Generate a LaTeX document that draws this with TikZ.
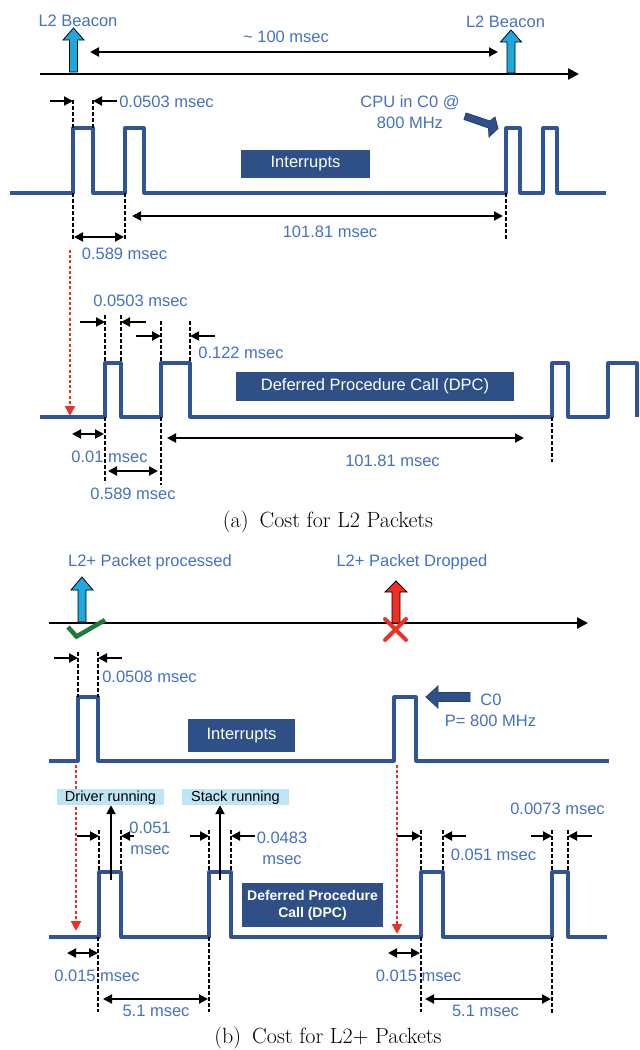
\documentclass[tikz,border=0pt]{standalone}
\usepackage{fontspec}
\newfontfamily\arial{Liberation Sans}
\usetikzlibrary{arrows.meta}
\definecolor{wave}{HTML}{2F5597}
\definecolor{txtblue}{HTML}{4472C4}
\definecolor{boxblue}{HTML}{2E5086}
\definecolor{beacon}{HTML}{1FA8E0}
\definecolor{redx}{HTML}{EE3124}
\definecolor{chk}{HTML}{1E7B35}
\definecolor{lblbg}{HTML}{BDE5F5}
\tikzset{
  wavel/.style={draw=wave, line width=3.2pt, line join=round},
  dotl/.style={draw=black, line width=1.8pt, dash pattern=on 3.5pt off 2.5pt},
  dimr/.style={draw=black, line width=2pt, -{Triangle[length=9pt,width=9pt]}},
  dimb/.style={draw=black, line width=2pt, {Triangle[length=9pt,width=9pt]}-{Triangle[length=9pt,width=9pt]}},
  axisl/.style={draw=black, line width=2.2pt, -{Triangle[length=11pt,width=11pt]}},
  reddot/.style={draw=redx, line width=2.2pt, dash pattern=on 3pt off 2.2pt, -{Triangle[length=10pt,width=10pt]}},
  lab/.style={text=txtblue, font=\arial\fontsize{16.5}{21}\selectfont, inner sep=0pt, align=center},
  onel/.style={lab, text height=12pt, text depth=0pt},
  darkbox/.style={fill=boxblue, text=white, font=\arial\fontsize{16.5}{19}\selectfont, inner sep=0pt, align=center},
  lightbox/.style={fill=lblbg, text=black, font=\arial\fontsize{14.5}{16}\selectfont, inner sep=0pt, text height=10.5pt, text depth=2pt},
  upblue/.style={draw=black, line width=0.8pt, fill=beacon, line join=miter},
  upred/.style={draw=black, line width=0.8pt, fill=redx, line join=miter},
  darkarrow/.style={draw=boxblue!80!black, line width=0.8pt, fill=boxblue},
  capt/.style={font=\fontsize{22}{26}\selectfont, inner sep=0pt}
}
\begin{document}
\begin{tikzpicture}[x=1pt,y=-1pt]
\useasboundingbox[fill=white] (0,0) rectangle (640,1050);

% ================= (a) =================
\coordinate (ta0) at (40,74);
\coordinate (ta1) at (579,74);
\draw[axisl] (ta0) -- (ta1);
\draw[upblue] (69.5,72) -- (69.5,40) -- (63,40) -- (73.5,28) -- (84,40) -- (77.5,40) -- (77.5,72) -- cycle;
\draw[upblue] (507,73) -- (507,42) -- (500.5,42) -- (511,30) -- (521.5,42) -- (515,42) -- (515,73) -- cycle;
\node[onel] (lb1) at (78,20.5) {L2 Beacon};
\node[onel] (lb2) at (505.5,21) {L2 Beacon};
\coordinate (h0) at (90,52);
\coordinate (h1) at (498,52);
\draw[dimb] (h0) -- (h1);
\node[onel] (hund) at (286,36) {\char`~\ 100 msec};

% interrupts waveform (a)
\draw[wavel] (10,193) -| (73,128) -| (93,193) -| (125,128) -| (144,193) -| (506,128) -| (520,193) -| (543,128) -| (557,193) -- (606,193);
\node[darkbox, minimum width=129pt, minimum height=28pt] (intA) at (305.5,164) {Interrupts};
\draw[dotl] (73,100) -- (73,128);
\draw[dotl] (93,100) -- (93,128);
\draw[dimr] (50,101) -- (73,101);
\draw[dimr] (117,101) -- (93,101);
\node[onel] (a1) at (166.5,101) {0.0503 msec};
\node[lab] (cpu) at (410,112.5) {CPU in C0 @\\800 MHz};
\draw[darkarrow] (466,113) -- (490,121) -- (495,117) -- (498,128.5) -- (489,137) -- (488.5,128) -- (464,119.5) -- cycle;
\draw[dotl] (73,193) -- (73,240);
\draw[dotl] (125,193) -- (125,240);
\draw[dotl] (506,193) -- (506,239);
\draw[dimb] (74,237) -- (124,237);
\node[onel] (a2) at (124.5,253.5) {0.589 msec};
\draw[dimb] (132,216) -- (503,216);
\node[onel] (a3) at (330,231.5) {101.81 msec};

\coordinate (ra0) at (70,250);
\coordinate (ra1) at (70,416);
\draw[reddot] (ra0) -- (ra1);

% DPC waveform (a)
\draw[wavel] (40,417) -| (105,363) -| (121,417) -| (161,363) -| (190,417) -| (552,363) -| (568,417) -| (608,363) -| (637,417);
\node[darkbox, minimum width=278pt, minimum height=29pt] (dpcA) at (375,386.5) {Deferred Procedure Call (DPC)};
\draw[dotl] (105,315) -- (105,363);
\draw[dotl] (121,315) -- (121,363);
\draw[dotl] (161,321) -- (161,363);
\draw[dotl] (190,321) -- (190,363);
\draw[dimr] (80,322) -- (105,322);
\draw[dimr] (146,322) -- (121,322);
\draw[dimr] (136,336) -- (161,336);
\draw[dimr] (215,336) -- (190,336);
\node[onel] (a4) at (140.5,300) {0.0503 msec};
\node[onel] (a5) at (241,352) {0.122 msec};
\draw[dotl] (105,417) -- (105,483);
\draw[dotl] (161,417) -- (161,485);
\draw[dotl] (552,417) -- (552,462);
\draw[dimb] (72,434) -- (104,434);
\node[onel] (a6) at (109.5,456) {0.01 msec};
\draw[dimb] (108,471) -- (158,471);
\node[onel] (a7) at (133,493) {0.589 msec};
\draw[dimb] (167,438) -- (524,438);
\node[onel] (a8) at (392.5,460) {101.81 msec};

\node[capt] (capA) at (328,522) {(a)\enspace Cost for L2 Packets};

% ================= (b) =================
\node[onel] (pp) at (150,560) {L2+ Packet processed};
\node[onel] (pd) at (412,560) {L2+ Packet Dropped};
\coordinate (tb0) at (49,623);
\coordinate (tb1) at (588,623);
\draw[axisl] (tb0) -- (tb1);
\draw[upblue] (78,622) -- (78,590) -- (71,590) -- (82,577) -- (93,590) -- (86,590) -- (86,622) -- cycle;
\draw[upred] (392,623) -- (392,592) -- (385,592) -- (396,581) -- (407,592) -- (400,592) -- (400,623) -- cycle;
\draw[chk, line width=4.5pt] (68,627) -- (76.5,636.5) -- (105,620);
\draw[redx, line width=4pt, line cap=round] (385,619) -- (406,640);
\draw[redx, line width=4pt, line cap=round] (385,640) -- (406,619);

% interrupts waveform (b)
\draw[wavel] (49,761) -| (78,697) -| (98,761) -| (394,697) -| (416,761) -- (609,761);
\node[darkbox, minimum width=107pt, minimum height=33pt] (intB) at (241.5,735.5) {Interrupts};
\draw[dotl] (78,652) -- (78,697);
\draw[dotl] (98,652) -- (98,697);
\draw[dimr] (54,658) -- (78,658);
\draw[dimr] (122,658) -- (98,658);
\node[onel] (b1) at (149.5,676.5) {0.0508 msec};
\draw[darkarrow] (470,692.5) -- (438,692.5) -- (438,686) -- (426,697) -- (438,708) -- (438,701.5) -- (470,701.5) -- cycle;
\node[onel] (c0) at (491,699.5) {C0};
\node[onel] (pmhz) at (490.5,720) {P= 800 MHz};

\coordinate (rb0) at (76,765);
\coordinate (rb1) at (76,931);
\draw[reddot] (rb0) -- (rb1);
\coordinate (rc0) at (397,765);
\coordinate (rc1) at (397,934);
\draw[reddot] (rc0) -- (rc1);

% DPC waveform (b)
\draw[wavel] (49,937) -| (99,872) -| (121,937) -| (209,872) -| (231,937) -| (421,872) -| (443,937) -| (552,872) -| (568,937) -- (607,937);
\node[darkbox, font=\arial\bfseries\fontsize{14}{17}\selectfont, minimum width=141pt, minimum height=44pt] (dpcB) at (312.5,905) {Deferred Procedure\\Call (DPC)};
\node[lightbox, minimum width=107pt, minimum height=16pt] (drv) at (110.5,797) {Driver running};
\node[lightbox, minimum width=107pt, minimum height=16pt] (stk) at (235.5,797) {Stack running};
\draw[dimr] (111,880) -- (drv.south -| 111,0);
\draw[dimr] (220,880) -- (stk.south -| 220,0);

\draw[dotl] (99,830) -- (99,872);
\draw[dotl] (121,830) -- (121,872);
\draw[dotl] (209,830) -- (209,872);
\draw[dotl] (231,830) -- (231,872);
\draw[dotl] (421,830) -- (421,872);
\draw[dotl] (443,830) -- (443,872);
\draw[dotl] (552,830) -- (552,872);
\draw[dotl] (568,830) -- (568,872);
\draw[dimr] (77,836) -- (99,836);
\draw[dimr] (134,836) -- (121,836);
\draw[dimr] (190,836) -- (209,836);
\draw[dimr] (255,836) -- (231,836);
\draw[dimr] (397,836) -- (421,836);
\draw[dimr] (466,836) -- (443,836);
\draw[dimr] (531,836) -- (552,836);
\draw[dimr] (592,836) -- (568,836);
\node[lab] (b2) at (150,838.5) {0.051\\msec};
\node[lab] (b3) at (282,848.5) {0.0483\\msec};
\node[onel] (b4) at (493.5,854) {0.051 msec};
\node[onel] (b5) at (557.5,808.5) {0.0073 msec};

\draw[dotl] (98,937) -- (98,1012);
\draw[dotl] (209,937) -- (209,1012);
\draw[dotl] (421,937) -- (421,1012);
\draw[dotl] (552,937) -- (552,1013);
\draw[dimb] (67,953) -- (98,953);
\draw[dimb] (103,999) -- (208,999);
\draw[dimb] (388,953) -- (420,953);
\draw[dimb] (425,999) -- (551,999);
\node[onel] (b6) at (97,975) {0.015 msec};
\node[onel] (b7) at (156,1010) {5.1 msec};
\node[onel] (b8) at (418.5,975) {0.015 msec};
\node[onel] (b9) at (485.5,1010) {5.1 msec};

\node[capt] (capB) at (328,1038) {(b)\enspace Cost for L2+ Packets};
\end{tikzpicture}
\end{document}
